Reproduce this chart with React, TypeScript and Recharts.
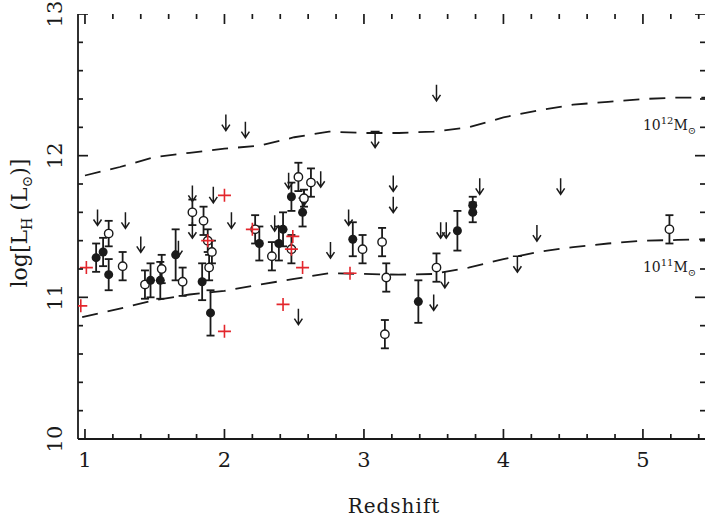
import { ScatterChart, Scatter, XAxis, YAxis, ErrorBar } from "recharts";

// detections with 1-sigma errors
const filledPoints = [
  { x: 1.08, y: 11.28, e: 0.1 },
  { x: 1.13, y: 11.32, e: 0.1 },
  { x: 1.17, y: 11.16, e: 0.11 },
  { x: 1.47, y: 11.12, e: 0.12 },
  { x: 1.54, y: 11.12, e: 0.13 },
  { x: 1.65, y: 11.3, e: 0.18 },
  { x: 1.84, y: 11.11, e: 0.13 },
  { x: 1.9, y: 10.89, e: 0.16 },
  { x: 2.25, y: 11.38, e: 0.12 },
  { x: 2.39, y: 11.38, e: 0.12 },
  { x: 2.42, y: 11.48, e: 0.12 },
  { x: 2.48, y: 11.71, e: 0.1 },
  { x: 2.56, y: 11.6, e: 0.1 },
  { x: 2.92, y: 11.41, e: 0.12 },
  { x: 3.39, y: 10.97, e: 0.15 },
  { x: 3.67, y: 11.47, e: 0.14 },
  { x: 3.78, y: 11.65, e: 0.06 },
  { x: 3.78, y: 11.6, e: 0.07 },
];

const openPoints = [
  { x: 1.17, y: 11.45, e: 0.09 },
  { x: 1.27, y: 11.22, e: 0.1 },
  { x: 1.43, y: 11.09, e: 0.1 },
  { x: 1.55, y: 11.2, e: 0.1 },
  { x: 1.7, y: 11.11, e: 0.1 },
  { x: 1.77, y: 11.6, e: 0.09 },
  { x: 1.85, y: 11.54, e: 0.1 },
  { x: 1.88, y: 11.4, e: 0.08 },
  { x: 1.91, y: 11.32, e: 0.08 },
  { x: 1.89, y: 11.21, e: 0.09 },
  { x: 2.22, y: 11.48, e: 0.1 },
  { x: 2.34, y: 11.29, e: 0.1 },
  { x: 2.48, y: 11.34, e: 0.1 },
  { x: 2.53, y: 11.85, e: 0.1 },
  { x: 2.62, y: 11.81, e: 0.1 },
  { x: 2.57, y: 11.7, e: 0.06 },
  { x: 2.99, y: 11.34, e: 0.1 },
  { x: 3.13, y: 11.39, e: 0.1 },
  { x: 3.16, y: 11.14, e: 0.1 },
  { x: 3.15, y: 10.74, e: 0.1 },
  { x: 3.52, y: 11.21, e: 0.1 },
  { x: 5.19, y: 11.48, e: 0.1 },
];

const redPoints = [
  { x: 0.97, y: 10.94 },
  { x: 1.01, y: 11.21 },
  { x: 1.88, y: 11.4 },
  { x: 2.0, y: 11.72 },
  { x: 2.0, y: 10.76 },
  { x: 2.2, y: 11.48 },
  { x: 2.49, y: 11.43 },
  { x: 2.48, y: 11.34 },
  { x: 2.56, y: 11.21 },
  { x: 2.42, y: 10.95 },
  { x: 2.9, y: 11.17 },
];

// upper limits (value = top of the arrow)
const upperLimits = [
  { x: 1.09, y: 11.62 },
  { x: 1.29, y: 11.6 },
  { x: 1.4, y: 11.43 },
  { x: 1.67, y: 11.4 },
  { x: 1.77, y: 11.79 },
  { x: 1.77, y: 11.53 },
  { x: 1.92, y: 11.78 },
  { x: 2.05, y: 11.6 },
  { x: 2.01, y: 12.29 },
  { x: 2.15, y: 12.24 },
  { x: 2.36, y: 11.58 },
  { x: 2.46, y: 11.88 },
  { x: 2.69, y: 11.89 },
  { x: 2.57, y: 11.76 },
  { x: 2.76, y: 11.39 },
  { x: 2.53, y: 10.92 },
  { x: 2.89, y: 11.62 },
  { x: 3.21, y: 11.86 },
  { x: 3.21, y: 11.71 },
  { x: 3.52, y: 12.5 },
  { x: 3.5, y: 11.02 },
  { x: 3.58, y: 11.18 },
  { x: 3.55, y: 11.53 },
  { x: 3.59, y: 11.53 },
  { x: 3.83, y: 11.84 },
  { x: 4.24, y: 11.51 },
  { x: 4.41, y: 11.84 },
];

const cappedLimits = [
  { x: 3.08, y: 12.17 },
  { x: 4.1, y: 11.29 },
];

// halo mass tracks
const track12 = [
  { x: 1.0, y: 11.86 }, { x: 1.25, y: 11.92 }, { x: 1.5, y: 11.99 }, { x: 1.75, y: 12.02 },
  { x: 2.0, y: 12.05 }, { x: 2.25, y: 12.07 }, { x: 2.5, y: 12.13 }, { x: 2.75, y: 12.17 },
  { x: 3.0, y: 12.16 }, { x: 3.25, y: 12.16 }, { x: 3.5, y: 12.17 }, { x: 3.75, y: 12.2 },
  { x: 4.0, y: 12.27 }, { x: 4.25, y: 12.32 }, { x: 4.5, y: 12.36 }, { x: 4.75, y: 12.38 },
  { x: 5.0, y: 12.4 }, { x: 5.25, y: 12.41 }, { x: 5.445, y: 12.41 },
];

const track11 = [
  { x: 0.98, y: 10.86 }, { x: 1.25, y: 10.92 }, { x: 1.5, y: 10.98 }, { x: 1.75, y: 11.02 },
  { x: 2.0, y: 11.045 }, { x: 2.25, y: 11.09 }, { x: 2.5, y: 11.13 }, { x: 2.75, y: 11.17 },
  { x: 3.0, y: 11.165 }, { x: 3.25, y: 11.16 }, { x: 3.5, y: 11.165 }, { x: 3.75, y: 11.21 },
  { x: 4.0, y: 11.27 }, { x: 4.25, y: 11.32 }, { x: 4.5, y: 11.355 }, { x: 4.75, y: 11.38 },
  { x: 5.0, y: 11.4 }, { x: 5.25, y: 11.405 }, { x: 5.445, y: 11.41 },
];

const trackLabels = [
  { x: 5.0, y: 12.18, exp: "12" },
  { x: 5.0, y: 11.18, exp: "11" },
];

const X_DOMAIN = [0.95, 5.445];
const Y_DOMAIN = [10, 13];
const xTicks = [1, 1.2, 1.4, 1.6, 1.8, 2, 2.2, 2.4, 2.6, 2.8, 3, 3.2, 3.4, 3.6, 3.8, 4, 4.2, 4.4, 4.6, 4.8, 5, 5.2, 5.4];
const yTicks = [10, 10.2, 10.4, 10.6, 10.8, 11, 11.2, 11.4, 11.6, 11.8, 12, 12.2, 12.4, 12.6, 12.8, 13];

const W = 707;
const H = 518;

const FONT = "'DejaVu Serif', 'Liberation Serif', serif";
const INK = "#1a1a1a";
const RED = "#e3262c";

const isMajor = (v: number) => Math.abs(v - Math.round(v)) < 1e-6;

// inward tick marks on all four sides of the frame, placed through the chart scales
const bottomMarks = xTicks.map((t) => ({ x: t, y: Y_DOMAIN[0], len: isMajor(t) ? 10 : 5 }));
const topMarks = xTicks.map((t) => ({ x: t, y: Y_DOMAIN[1], len: isMajor(t) ? 10 : 5 }));
const leftMarks = yTicks.map((t) => ({ x: X_DOMAIN[0], y: t, len: isMajor(t) ? 10 : 5 }));
const rightMarks = yTicks.map((t) => ({ x: X_DOMAIN[1], y: t, len: isMajor(t) ? 10 : 5 }));

const UpMark = (p: any) => <path d={`M${p.cx},${p.cy}V${p.cy - p.payload.len}`} stroke={INK} strokeWidth={1.7} />;
const DownMark = (p: any) => <path d={`M${p.cx},${p.cy}V${p.cy + p.payload.len}`} stroke={INK} strokeWidth={1.7} />;
const RightMark = (p: any) => <path d={`M${p.cx},${p.cy}H${p.cx + p.payload.len}`} stroke={INK} strokeWidth={1.7} />;
const LeftMark = (p: any) => <path d={`M${p.cx},${p.cy}H${p.cx - p.payload.len}`} stroke={INK} strokeWidth={1.7} />;

function BottomLabel(props: any) {
  const { x, y, payload } = props;
  const v = Number(payload.value);
  if (!isMajor(v)) return <g />;
  return (
    <text x={x} y={y + 28} textAnchor="middle" fontFamily={FONT} fontSize={21} fill={INK}>
      {v}
    </text>
  );
}

function LeftLabel(props: any) {
  const { x, y, payload } = props;
  const v = Number(payload.value);
  if (!isMajor(v)) return <g />;
  const tx = x - 16;
  return (
    <text x={tx} y={y} textAnchor="middle" fontFamily={FONT} fontSize={21} fill={INK} transform={`rotate(-90, ${tx}, ${y})`}>
      {v}
    </text>
  );
}

const FilledDot = (p: any) => <circle cx={p.cx} cy={p.cy} r={4.5} fill={INK} />;
const OpenDot = (p: any) => <circle cx={p.cx} cy={p.cy} r={4.2} fill="#fff" stroke={INK} strokeWidth={1.4} />;
const RedPlus = (p: any) => (
  <path d={`M${p.cx - 6.5},${p.cy}H${p.cx + 6.5}M${p.cx},${p.cy - 6.5}V${p.cy + 6.5}`} stroke={RED} strokeWidth={1.6} />
);
const Arrow = (p: any) => (
  <path
    d={`M${p.cx},${p.cy}V${p.cy + 16}M${p.cx - 4},${p.cy + 10}L${p.cx},${p.cy + 16}L${p.cx + 4},${p.cy + 10}`}
    stroke={INK}
    strokeWidth={1.5}
    fill="none"
  />
);
const CappedArrow = (p: any) => (
  <path
    d={`M${p.cx - 4.5},${p.cy}H${p.cx + 4.5}M${p.cx},${p.cy}V${p.cy + 16}M${p.cx - 4},${p.cy + 10}L${p.cx},${p.cy + 16}L${p.cx + 4},${p.cy + 10}`}
    stroke={INK}
    strokeWidth={1.5}
    fill="none"
  />
);
const Nothing = () => <g />;
const TrackLabel = (p: any) => (
  <text x={p.cx} y={p.cy} fontFamily={FONT} fontSize={14} fill={INK}>
    10
    <tspan dy={-6} fontSize={10}>
      {p.payload.exp}
    </tspan>
    <tspan dy={6}>M</tspan>
    <tspan dy={4} fontSize={10}>
      ⊙
    </tspan>
  </text>
);

const xTitle = () => (
  <text x={394} y={513} textAnchor="middle" fontFamily={FONT} fontSize={20} letterSpacing={1} fill={INK}>
    Redshift
  </text>
);

const yTitle = () => (
  <text x={27} y={223} textAnchor="middle" fontFamily={FONT} fontSize={22} fill={INK} transform="rotate(-90, 27, 223)">
    log[L
    <tspan dy={5} fontSize={14}>
      H
    </tspan>
    <tspan dy={-5}> (L</tspan>
    <tspan dy={5} fontSize={14}>
      ⊙
    </tspan>
    <tspan dy={-5}>)]</tspan>
  </text>
);

const axisCommon = {
  interval: 0 as const,
  allowDataOverflow: true,
  tickSize: 0,
  tickMargin: 0,
  tickLine: false,
  axisLine: { stroke: INK, strokeWidth: 1.8 },
};

export default function App() {
  const dash = { stroke: INK, strokeWidth: 1.8, strokeDasharray: "16 10", fill: "none" };
  return (
    <div style={{ position: "absolute", left: 0, top: 0, width: W, height: H, background: "#fff" }}>
      <ScatterChart width={W} height={H} margin={{ top: 14, right: 2, bottom: 0, left: 0 }}>
        <XAxis
          {...axisCommon}
          type="number"
          dataKey="x"
          domain={X_DOMAIN}
          ticks={xTicks}
          height={79}
          tick={BottomLabel}
          label={xTitle}
        />
        <XAxis
          {...axisCommon}
          xAxisId="top"
          orientation="top"
          type="number"
          dataKey="x"
          domain={X_DOMAIN}
          ticks={xTicks}
          height={0}
          tick={false}
        />
        <YAxis
          {...axisCommon}
          type="number"
          dataKey="y"
          domain={Y_DOMAIN}
          ticks={yTicks}
          width={78}
          tick={LeftLabel}
          label={yTitle}
        />
        <YAxis
          {...axisCommon}
          yAxisId="right"
          orientation="right"
          type="number"
          dataKey="y"
          domain={Y_DOMAIN}
          ticks={yTicks}
          width={0}
          tick={false}
        />
        <Scatter data={track12} line={dash} lineType="joint" shape={Nothing} isAnimationActive={false} />
        <Scatter data={track11} line={dash} lineType="joint" shape={Nothing} isAnimationActive={false} />
        <Scatter data={trackLabels} shape={TrackLabel} isAnimationActive={false} />
        <Scatter data={upperLimits} shape={Arrow} isAnimationActive={false} />
        <Scatter data={cappedLimits} shape={CappedArrow} isAnimationActive={false} />
        <Scatter data={openPoints} shape={OpenDot} isAnimationActive={false}>
          <ErrorBar dataKey="e" direction="y" width={4} stroke={INK} strokeWidth={1.8} />
        </Scatter>
        <Scatter data={filledPoints} shape={FilledDot} isAnimationActive={false}>
          <ErrorBar dataKey="e" direction="y" width={4} stroke={INK} strokeWidth={1.8} />
        </Scatter>
        <Scatter data={redPoints} shape={RedPlus} isAnimationActive={false} />
        <Scatter data={bottomMarks} shape={UpMark} isAnimationActive={false} />
        <Scatter data={topMarks} shape={DownMark} isAnimationActive={false} />
        <Scatter data={leftMarks} shape={RightMark} isAnimationActive={false} />
        <Scatter data={rightMarks} shape={LeftMark} isAnimationActive={false} />
      </ScatterChart>
    </div>
  );
}
